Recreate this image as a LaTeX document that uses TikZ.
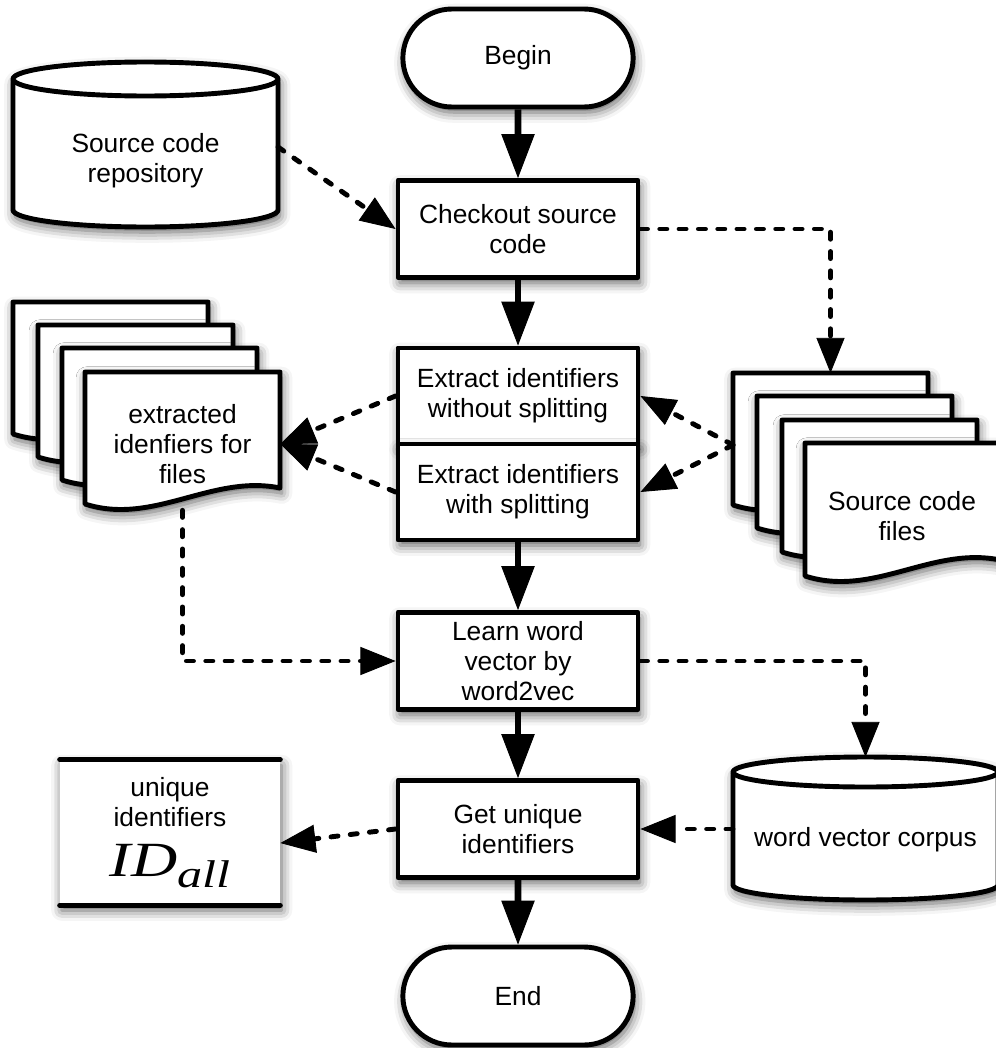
\documentclass[tikz,border=0pt]{standalone}
\usepackage{fontspec}
\setmainfont{Liberation Sans}
\newfontfamily\idfont{Liberation Serif}
\usetikzlibrary{arrows.meta, shapes.misc, shadows.blur}

% database drum: left, top, right, bottom, rim half height
\newcommand{\drum}[5]{%
  \draw[outline, fill=white, softshadow] (#1,#2+#5) -- (#1,#4-#5)
    .. controls (#1,#4-0.45*#5) and ({(#1+#3)/2-0.276*(#3-#1)},#4) .. ({(#1+#3)/2},#4)
    .. controls ({(#1+#3)/2+0.276*(#3-#1)},#4) and (#3,#4-0.45*#5) .. (#3,#4-#5)
    -- (#3,#2+#5)
    .. controls (#3,#2+0.45*#5) and ({(#1+#3)/2+0.276*(#3-#1)},#2) .. ({(#1+#3)/2},#2)
    .. controls ({(#1+#3)/2-0.276*(#3-#1)},#2) and (#1,#2+0.45*#5) .. cycle;
  \draw[outline] (#1,#2+#5)
    .. controls (#1,#2+1.55*#5) and ({(#1+#3)/2-0.276*(#3-#1)},#2+2*#5) .. ({(#1+#3)/2},#2+2*#5)
    .. controls ({(#1+#3)/2+0.276*(#3-#1)},#2+2*#5) and (#3,#2+1.55*#5) .. (#3,#2+#5);
}

% one sheet of a document stack: left, top, width, height
\newcommand{\sheet}[4]{%
  \draw[outline, fill=white, softshadow] (#1,#2) -- (#1+#3,#2) -- (#1+#3,#2+#4-16)
    .. controls (#1+0.65*#3,#2+#4-30) and (#1+0.35*#3,#2+#4+22) .. (#1,#2+#4) -- cycle;
}

\begin{document}
\begin{tikzpicture}[x=0.02cm, y=-0.02cm, font=\fontsize{15}{17}\selectfont,
  outline/.style={line width=2.8pt, line join=round},
  softshadow/.style={blur shadow={shadow xshift=1pt, shadow yshift=-3pt, shadow blur radius=6pt, shadow opacity=65}},
  stepbox/.style={outline, draw, fill=white, softshadow, minimum width=4.8cm, minimum height=1.94cm, align=center},
  terminal/.style={stepbox, rounded rectangle, minimum width=4.84cm, minimum height=1.96cm},
  textarea/.style={align=center, inner sep=0pt},
  flow/.style={line width=3.8pt, draw=black, -{Triangle[length=25pt, width=19pt, fill=black, line width=0.5pt]}},
  feed/.style={line width=2.8pt, draw=black, line cap=round, dash pattern=on 4pt off 7pt, -{Triangle[length=20pt, width=16pt, fill=black, line width=0.5pt]}}]

\useasboundingbox (0,0) rectangle (996,1048);

% stores
\drum{13}{62}{278}{227}{17}
\node[textarea] (repo) at (145.5,161) {Source code\\repository};
\coordinate (repoout) at (278,147);

\drum{733}{757}{998}{900}{15}
\node[textarea] (corpus) at (865.5,840) {word vector corpus};
\coordinate (corpusin) at (865.5,757);
\coordinate (corpusout) at (733,829);

% document stacks
\sheet{13}{302}{195}{132}
\sheet{38}{325}{195}{132}
\sheet{62}{348}{195}{132}
\sheet{85}{372}{195}{132}
\node[textarea, minimum width=3.9cm, minimum height=2.64cm] (extracted) at (182.5,444) {extracted\\idenfiers for\\files};

\sheet{733}{373}{195}{132}
\sheet{757}{396}{195}{132}
\sheet{782}{420}{195}{132}
\sheet{805}{443}{195}{133}
\node[textarea] (files) at (902,516) {Source code\\files};
\coordinate (filesin) at (830.5,373);
\coordinate (filesout) at (733,445);

% result
\node[fill=white, softshadow, minimum width=4.4cm, minimum height=2.9cm, align=center] (idall) at (170,832.5)
  {unique\\identifiers\\[9pt]\scalebox{1.3}[1]{\idfont\itshape\fontsize{28}{28}\selectfont ID\raisebox{-6pt}{\fontsize{22}{22}\selectfont all}}};
\draw[outline, line cap=round] (idall.north west) -- (idall.north east);
\draw[outline, line cap=round] (idall.south west) -- (idall.south east);

% main steps
\node[terminal] (start) at (518,58) {Begin};
\node[stepbox] (checkout) at (518,229) {Checkout source\\code};
\node[stepbox, minimum height=1.92cm] (nosplit) at (518,396) {Extract identifiers\\without splitting};
\node[stepbox, minimum height=1.92cm] (split) at (518,492) {Extract identifiers\\with splitting};
\node[stepbox] (learn) at (518,661) {Learn word\\vector by\\word2vec};
\node[stepbox] (unique) at (518,829) {Get unique\\identifiers};
\node[terminal] (stop) at (518,996) {End};

\draw[flow] (start) -- (checkout);
\draw[flow] (checkout) -- (nosplit);
\draw[flow] (split) -- (learn);
\draw[flow] (learn) -- (unique);
\draw[flow] (unique) -- (stop);

\draw[feed] (repoout) -- (checkout.west);
\draw[feed] (checkout.east) -| (filesin);
\draw[feed] (filesout) -- (nosplit.east);
\draw[feed] (filesout) -- (split.east);
\draw[feed] (nosplit.west) -- (extracted.east);
\draw[feed] (split.west) -- (extracted.east);
\draw[feed] (extracted.south) |- (learn.west);
\draw[feed] (learn.east) -| (corpusin);
\draw[feed] (corpusout) -- (unique.east);
\draw[feed] (unique.west) -- ([yshift=-6pt]idall.east);

\end{tikzpicture}
\end{document}
